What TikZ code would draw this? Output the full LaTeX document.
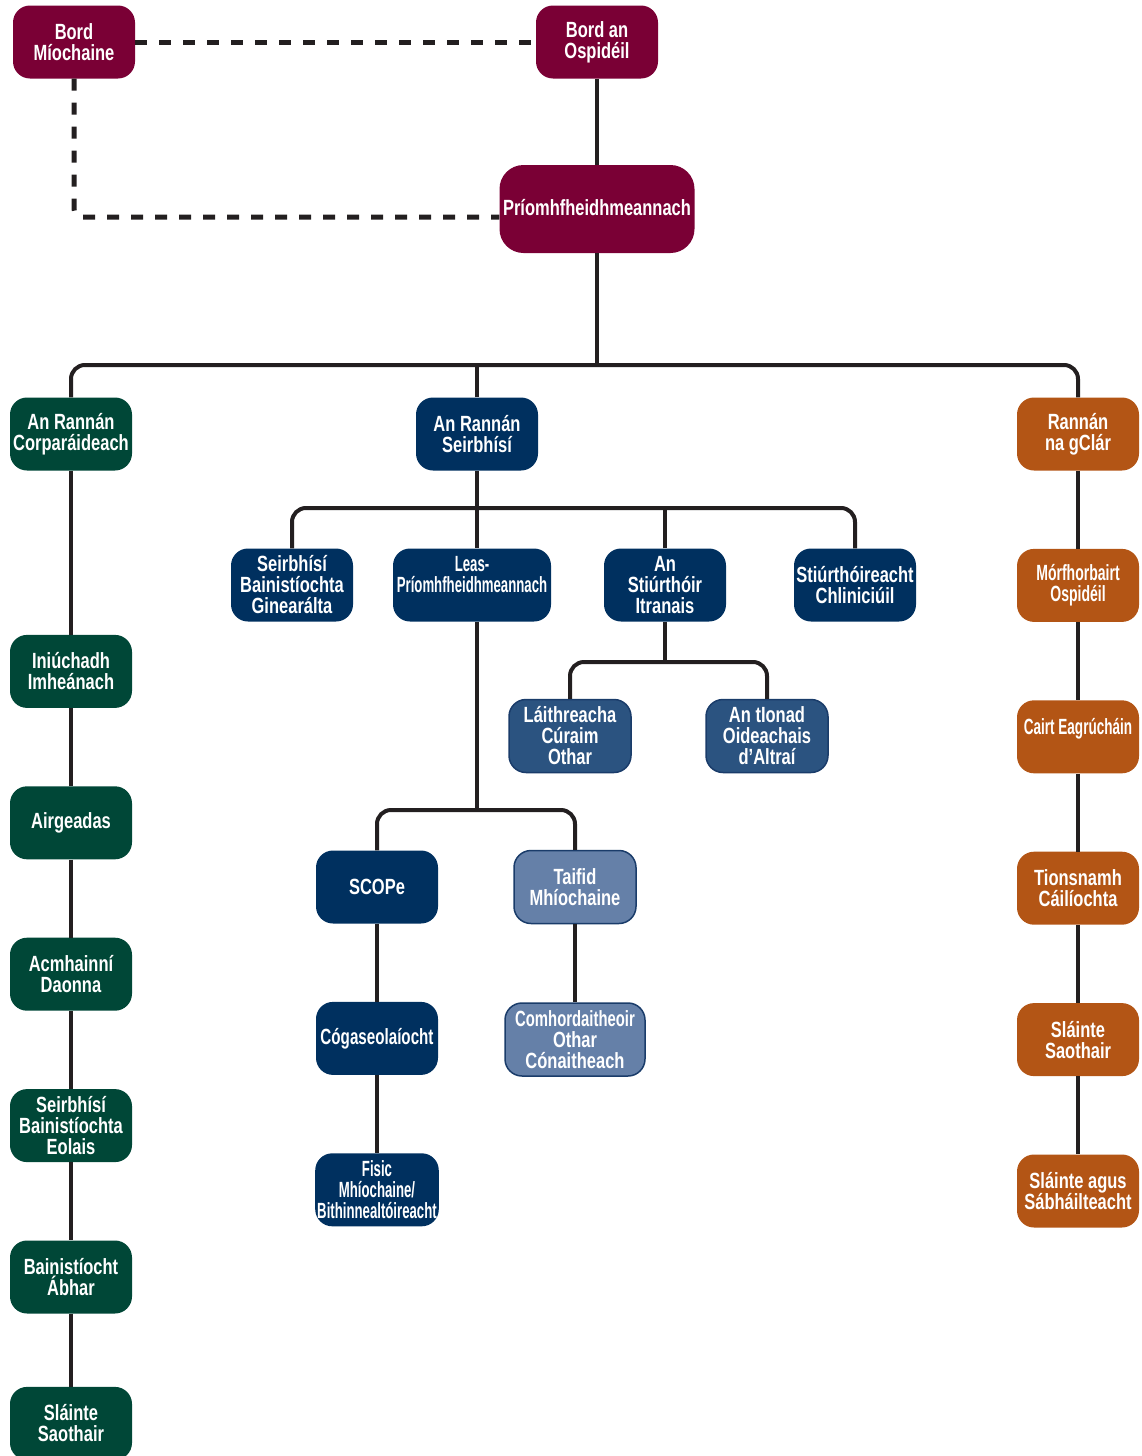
\documentclass[tikz,border=0pt]{standalone}
\usepackage{fontspec}
\usepackage{graphicx}
\setmainfont{Liberation Sans}[FakeStretch=0.75]
\usepackage{tikz}
\usetikzlibrary{positioning}

\definecolor{boardred}{HTML}{7A0035}
\definecolor{corpgreen}{HTML}{004737}
\definecolor{servnavy}{HTML}{00305F}
\definecolor{servmid}{HTML}{2B5380}
\definecolor{servlight}{HTML}{6580A8}
\definecolor{servedge}{HTML}{1A3C6A}
\definecolor{clarorange}{HTML}{B35515}
\definecolor{linkgray}{HTML}{231F20}

\newcommand{\squeeze}[2]{\scalebox{#1}[1]{#2}}

\begin{document}
\begin{tikzpicture}[x=1pt, y=-1pt, node distance=78pt,
	org box/.style={rectangle, rounded corners=17pt, minimum width=122pt, minimum height=73pt, inner sep=2pt,
		align=center, text=white, font=\bfseries\fontsize{22}{21}\selectfont},
	board/.style={org box, fill=boardred},
	corp node/.style={org box, fill=corpgreen},
	serv node/.style={org box, fill=servnavy},
	serv mid/.style={org box, fill=servmid, draw=servedge, line width=1.5pt},
	serv light/.style={org box, fill=servlight, draw=servedge, line width=1.5pt},
	clar node/.style={org box, fill=clarorange},
	link/.style={draw=linkgray, line width=4pt},
	dashed link/.style={draw=linkgray, line width=5pt, dash pattern=on 12pt off 12pt},
]
\useasboundingbox (0,0) rectangle (1141,1456);
% board level
\node [board] (BordMioch) at (74,42) {Bord\\Míochaine};
\node [board] (BordOsp) at (597,42) {Bord an\\Ospidéil};
\node [board, minimum width=195pt, minimum height=88pt, rounded corners=24pt] (Priomh) at (597,209) {\raisebox{4pt}{Príomhfheidhmeannach}};
%
\coordinate (bus) at (0,365);
\coordinate (servbus) at (0,508);
\coordinate (leasbus) at (0,810);
\coordinate (altbus) at (0,662);
% divisions
\node [corp node] (Corp) at (71,434) {An Rannán\\Corparáideach};
\node [serv node] (Serv) at (477,434) {An Rannán\\Seirbhísí};
\node [clar node] (Clar) at (1078,434) {Rannán\\na gClár};
% corporate column
\node [corp node] (Iniuch) [below=164pt of Corp] {Iniúchadh\\Imheánach};
\node [corp node] (Airgead) [below=78pt of Iniuch] {Airgeadas};
\node [corp node] (Acmhainn) [below=78pt of Airgead] {Acmhainní\\Daonna};
\node [corp node] (Eolas) [below=78pt of Acmhainn] {Seirbhísí\\Bainistíochta\\Eolais};
\node [corp node] (Abhar) [below=78pt of Eolas] {Bainistíocht\\Ábhar};
\node [corp node] (SlainteC) [below=73pt of Abhar] {Sláinte\\Saothair};
% programme column
\node [clar node] (Morf) [below=78pt of Clar] {\squeeze{0.85}{Mórfhorbairt}\\\squeeze{0.85}{Ospidéil}};
\node [clar node] (Cairt) [below=78pt of Morf] {\squeeze{0.82}{Cairt Eagrúcháin}\\\mbox{}};
\node [clar node] (Tions) [below=78pt of Cairt] {Tionsnamh\\Cáilíochta};
\node [clar node] (SlainteS) [below=78pt of Tions] {Sláinte\\Saothair};
\node [clar node] (Sabh) [below=78pt of SlainteS] {Sláinte agus\\Sábháilteacht};
% services
\node [serv node] (SBG) at (292,585) {Seirbhísí\\Bainistíochta\\Ginearálta};
\node [serv node, minimum width=158pt] (Leas) at (472,585) {\squeeze{0.8}{Leas-}\\\squeeze{0.8}{Príomhfheidhmeannach}\\\mbox{}};
\node [serv node] (Stiur) at (665,585) {An\\Stiúrthóir\\Itranais};
\node [serv node] (Clin) at (855,585) {Stiúrthóireacht\\Chliniciúil};
\node [serv mid] (Laith) at (570,736) {Láithreacha\\Cúraim\\Othar};
\node [serv mid] (Ionad) at (767,736) {An tIonad\\Oideachais\\d’Altraí};
\node [serv node] (SCOPe) at (377,887) {SCOPe};
\node [serv light] (Taifid) at (575,887) {Taifid\\Mhíochaine};
\node [serv node] (Cogas) [below=78pt of SCOPe] {\squeeze{0.92}{Cógaseolaíocht}};
\node [serv node] (Fisic) [below=78pt of Cogas] {\squeeze{0.8}{Fisic}\\\squeeze{0.8}{Mhíochaine/}\\\squeeze{0.8}{Bithinnealtóireacht}};
\node [serv light, minimum width=140pt] (Comh) [below=78pt of Taifid] {\squeeze{0.9}{Comhordaitheoir}\\Othar\\Cónaitheach};
%
\draw [dashed link] (BordMioch.east) -- (BordOsp.west);
\draw [dashed link, rounded corners=8pt] (BordMioch.south) |- ([yshift=-8pt]Priomh.west);
\draw [link] (BordOsp) -- (Priomh);
\draw [link] (Priomh.south) -- (Priomh.south |- bus);
\draw [link, rounded corners=14pt] (Corp.north) |- (Clar.north |- bus) -- (Clar.north);
\draw [link] (Serv.north) -- (Serv.north |- bus);
\draw [link] (Corp) -- (Iniuch);
\draw [link] (Iniuch) -- (Airgead);
\draw [link] (Airgead) -- (Acmhainn);
\draw [link] (Acmhainn) -- (Eolas);
\draw [link] (Eolas) -- (Abhar);
\draw [link] (Abhar) -- (SlainteC);
\draw [link] (Clar) -- (Morf);
\draw [link] (Morf) -- (Cairt);
\draw [link] (Cairt) -- (Tions);
\draw [link] (Tions) -- (SlainteS);
\draw [link] (SlainteS) -- (Sabh);
\draw [link] (Serv.south) -- (Serv.south |- Leas.north);
\draw [link, rounded corners=14pt] (SBG.north) |- (Clin.north |- servbus) -- (Clin.north);
\draw [link] (Stiur.north) -- (Stiur.north |- servbus);
\draw [link] (Stiur.south) -- (Stiur.south |- altbus);
\draw [link, rounded corners=14pt] (Laith.north) |- (Ionad.north |- altbus) -- (Ionad.north);
\draw [link] (Serv.south |- Leas.south) -- (Serv.south |- leasbus);
\draw [link, rounded corners=14pt] (SCOPe.north) |- (Taifid.north |- leasbus) -- (Taifid.north);
\draw [link] (SCOPe) -- (Cogas);
\draw [link] (Cogas) -- (Fisic);
\draw [link] (Taifid) -- (Comh);
\end{tikzpicture}
\end{document}
